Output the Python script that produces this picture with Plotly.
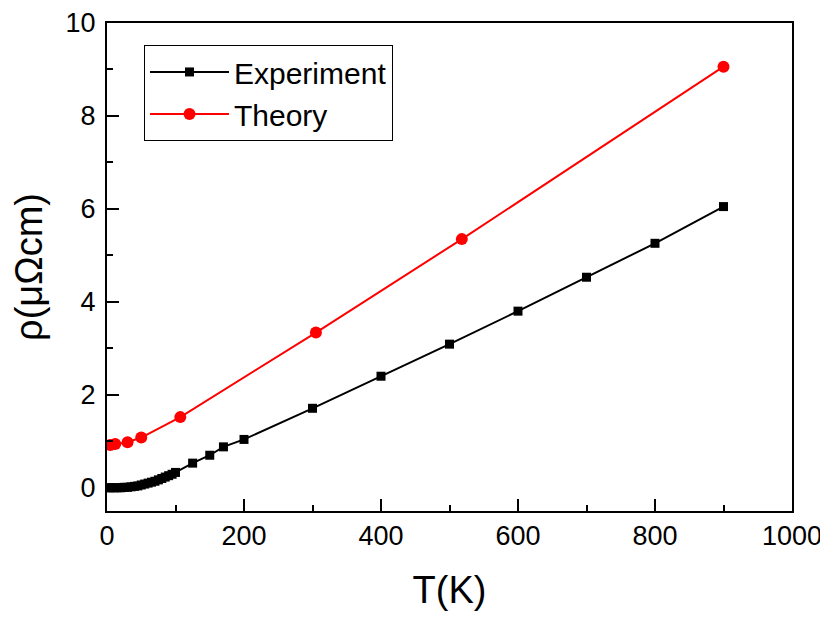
import plotly.graph_objects as go

# Experiment data
exp_T = [2, 5, 10, 15, 20, 25, 30, 35, 40, 45, 50, 55, 60, 65, 70, 75, 80, 85, 90, 95, 100,
         125, 150, 170, 200, 300, 400, 500, 600, 700, 800, 900]
exp_rho = [0.00, 0.00, 0.00, 0.00, 0.00, 0.01, 0.01, 0.02, 0.03, 0.04, 0.06, 0.08, 0.10, 0.12,
           0.14, 0.17, 0.20, 0.23, 0.26, 0.29, 0.33,
           0.53, 0.70, 0.88, 1.04, 1.71, 2.40, 3.09, 3.80, 4.53, 5.26, 6.05]

# Theory data
th_T = [5, 12, 30, 50, 107, 305, 518, 900]
th_rho = [0.92, 0.94, 0.98, 1.08, 1.52, 3.34, 5.35, 9.06]

FONT = "Liberation Sans, Arial, sans-serif"

fig = go.Figure()
fig.add_trace(go.Scatter(
    x=exp_T, y=exp_rho, mode="lines+markers", name="Experiment",
    line=dict(color="black", width=2),
    marker=dict(symbol="square", size=9, color="black"),
))
fig.add_trace(go.Scatter(
    x=th_T, y=th_rho, mode="lines+markers", name="Theory",
    line=dict(color="#ff0000", width=2),
    marker=dict(symbol="circle", size=12, color="#ff0000"),
))

axis_common = dict(
    showline=True, linecolor="black", linewidth=2, mirror=True,
    ticks="inside", ticklen=12, tickwidth=2, tickcolor="black",
    showgrid=False, zeroline=False, automargin=False,
    ticklabeloverflow="allow",
    tickfont=dict(family=FONT, size=27, color="black"),
)

fig.update_xaxes(
    range=[0, 1000], dtick=200, tick0=0,
    minor=dict(dtick=100, ticks="inside", ticklen=6, tickwidth=2, tickcolor="black"),
    title=dict(text="T(K)", font=dict(family=FONT, size=38, color="black"), standoff=26),
    **axis_common,
)
fig.update_yaxes(
    range=[-0.5, 10.0001], dtick=2, tick0=0,
    minor=dict(dtick=1, ticks="inside", ticklen=6, tickwidth=2, tickcolor="black"),
    title=dict(text="ρ(μΩcm)", font=dict(family=FONT, size=38, color="black"), standoff=22),
    ticklabelstandoff=4,
    **axis_common,
)

fig.update_layout(
    width=820, height=611,
    margin=dict(l=99, r=36, t=15, b=108),
    paper_bgcolor="white", plot_bgcolor="white",
    font=dict(family=FONT, color="black"),
    legend=dict(
        x=0.054, y=0.955, xanchor="left", yanchor="top",
        bordercolor="black", borderwidth=1, bgcolor="white",
        font=dict(family=FONT, size=30, color="black"),
        itemwidth=79, tracegroupgap=0,
    ),
)

fig.write_html("out.html")
